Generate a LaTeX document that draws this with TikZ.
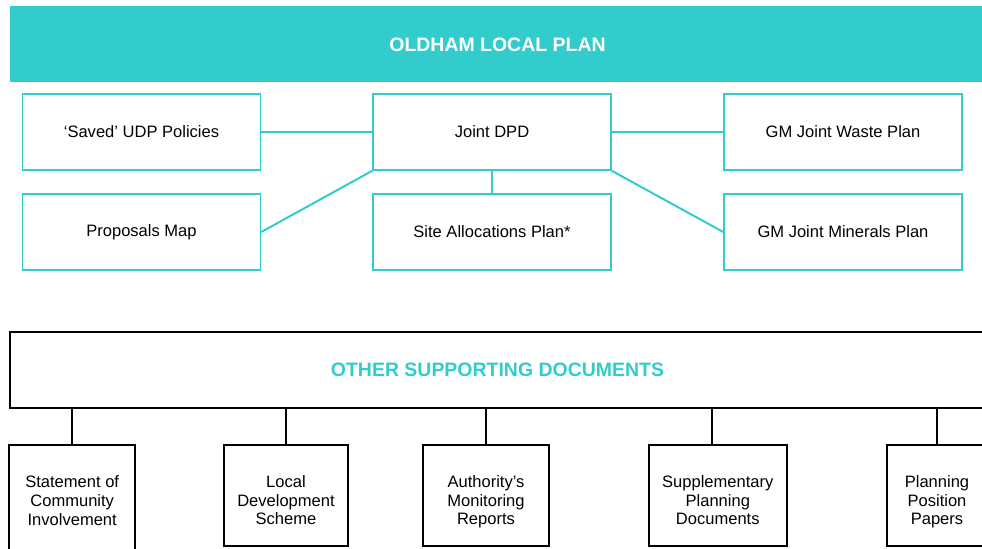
\documentclass[tikz,border=0pt]{standalone}
\usepackage{fontspec}
\setmainfont{Liberation Sans}
\definecolor{oldteal}{RGB}{51,204,204}

\begin{document}
\begin{tikzpicture}[x=0.75pt, y=-0.75pt,
    planbox/.style={draw=oldteal, line width=1.2pt, minimum width=178.5pt, minimum height=57pt,
      font=\fontsize{12.4pt}{13.9pt}\selectfont},
    docbox/.style={draw=black, line width=1.5pt, minimum height=75.75pt, align=center,
      text height=44pt, text depth=0pt, font=\fontsize{12.4pt}{13.9pt}\selectfont},
    tealline/.style={draw=oldteal, line width=1.5pt},
    blackline/.style={draw=black, line width=1.5pt}]
  \clip (0,0) rectangle (982,549);

  % local plan
  \node (banner) at (497.5,44.5) [fill=oldteal, minimum width=731.25pt, minimum height=57pt,
    text=white, font=\fontsize{14.6pt}{16pt}\selectfont\bfseries] {OLDHAM LOCAL PLAN};

  \node (saved) at (141.5,132) [planbox] {‘Saved’ UDP Policies};
  \node (joint) at (492,132) [planbox] {Joint DPD};
  \node (waste) at (843,132) [planbox] {GM Joint Waste Plan};
  \node (propmap) at (141.5,232) [planbox] {Proposals Map};
  \node (siteplan) at (492,232) [planbox] {Site Allocations Plan*};
  \node (minerals) at (843,232) [planbox] {GM Joint Minerals Plan};

  \draw[tealline] (saved) -- (joint);
  \draw[tealline] (joint) -- (waste);
  \draw[tealline] (joint) -- (siteplan);
  \draw[tealline] (propmap.east) -- (joint.south west);
  \draw[tealline] (joint.south east) -- (minerals.west);

  % supporting documents
  \node (other) at (497.5,370) [draw=black, line width=1.5pt, minimum width=731.25pt,
    minimum height=57pt, text=oldteal, font=\fontsize{14.6pt}{16pt}\selectfont\bfseries]
    {OTHER SUPPORTING DOCUMENTS};

  \node (soci) at (72.2,502.5) [docbox, minimum width=94.5pt, minimum height=86.25pt,
    text height=33.75pt] {Statement of\\Community\\Involvement};
  \node (lds) at (286,495.5) [docbox, minimum width=93pt] {Local\\Development\\Scheme};
  \node (amr) at (486,495.5) [docbox, minimum width=94.5pt] {Authority’s\\Monitoring\\Reports};
  \node (spd) at (717.8,495.5) [docbox, minimum width=103.5pt] {Supplementary\\Planning\\Documents};
  \node (ppp) at (937,495.5) [docbox, minimum width=75pt] {Planning\\Position\\Papers};

  \coordinate (spdtop) at (711.7,445.5);

  \draw[blackline] (other.south -| soci.north) -- (soci.north);
  \draw[blackline] (other.south -| lds.north) -- (lds.north);
  \draw[blackline] (other.south -| amr.north) -- (amr.north);
  \draw[blackline] (other.south -| spdtop) -- (spdtop);
  \draw[blackline] (other.south -| ppp.north) -- (ppp.north);
\end{tikzpicture}
\end{document}
